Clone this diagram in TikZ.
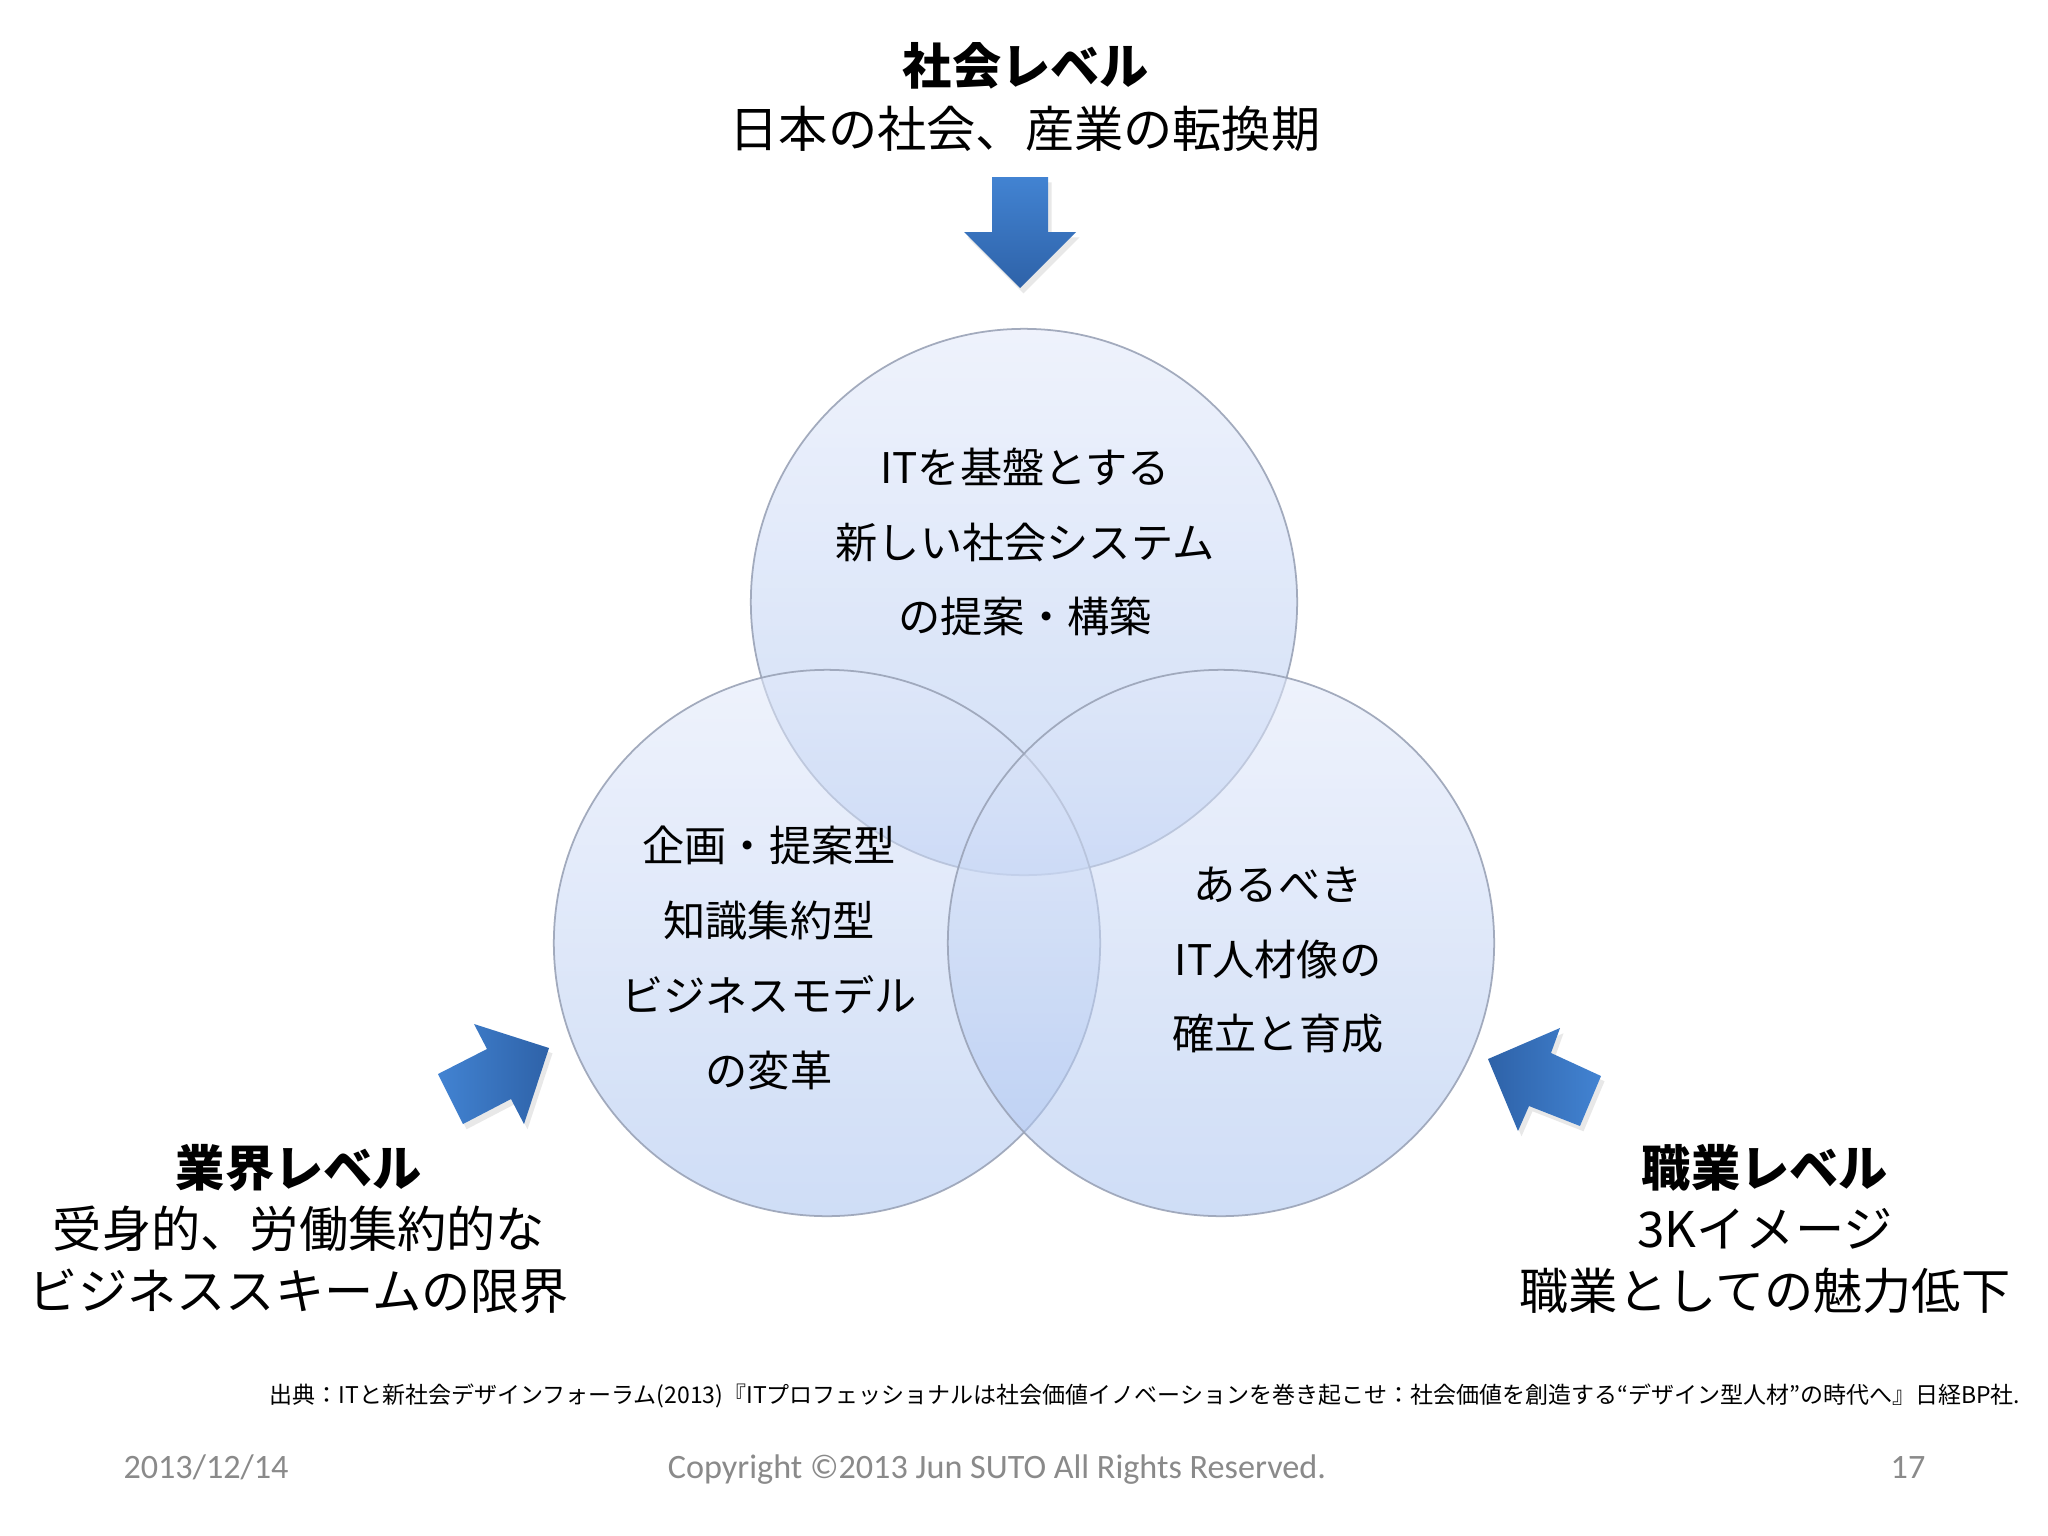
\documentclass[tikz,border=0pt]{standalone}
\usepackage{fontspec}
\setmainfont{Noto Sans CJK JP}
\newfontfamily\footfont{Carlito}
\usetikzlibrary{shadows}
\definecolor{arrowlight}{HTML}{4283D2}
\definecolor{arrowdark}{HTML}{2E62A8}
\definecolor{venntop}{RGB}{226,233,250}
\definecolor{vennbot}{RGB}{168,194,240}
\definecolor{vennedge}{HTML}{9AA3B7}
\definecolor{footgray}{HTML}{8A8A8A}
\tikzset{
  venn/.style={circle, minimum size=5.46cm, inner sep=0pt, draw=vennedge, line width=0.5pt,
    top color=venntop, bottom color=vennbot, fill opacity=0.55, draw opacity=0.9},
  titleb/.style={font=\fontsize{14pt}{16pt}\selectfont\bfseries, inner sep=0pt},
  titler/.style={font=\fontsize{14pt}{16pt}\selectfont, inner sep=0pt},
  ctext/.style={font=\fontsize{12pt}{21.3pt}\selectfont, align=center, inner sep=0pt},
  bluearrow/.style={draw=none, drop shadow={opacity=0.18, shadow xshift=1pt, shadow yshift=-1.5pt}},
  foot/.style={font=\footfont\fontsize{9.72pt}{11pt}\selectfont, text=footgray, inner sep=0pt, anchor=base},
}
\begin{document}
\begin{tikzpicture}[x=0.01cm,y=-0.01cm]
\useasboundingbox[fill=white] (0,0) rectangle (2048,1536);

% circles
\node[venn] (top) at (1024,602) {};
\node[venn] (left) at (827,943) {};
\node[venn] (right) at (1221,943) {};

% circle texts
\node[ctext] (toptext) at (1025,542) {ITを基盤とする\\新しい社会システム\\の提案・構築};
\node[ctext] (lefttext) at (769,958) {企画・提案型\\知識集約型\\ビジネスモデル\\の変革};
\node[ctext] (righttext) at (1278,960) {あるべき\\IT人材像の\\確立と育成};

% top labels
\node[titleb] (soc) at (1026,66) {社会レベル};
\node[titler] (socd) at (1025,129) {日本の社会、産業の転換期};

% bottom-left labels
\node[titleb] (ind) at (299,1168) {業界レベル};
\node[titler] (indd1) at (299,1229) {受身的、労働集約的な};
\node[titler] (indd2) at (299,1291) {ビジネススキームの限界};

% bottom-right labels
\node[titleb] (job) at (1765,1168) {職業レベル};
\node[titler] (jobd1) at (1765,1229) {3Kイメージ};
\node[titler] (jobd2) at (1765,1291) {職業としての魅力低下};

% arrows
\path[bluearrow, top color=arrowlight, bottom color=arrowdark]
  (992,177) -- (1048,177) -- (1048,232) -- (1076,232) -- (1020,288) -- (964,232) -- (992,232) -- cycle;
\path[bluearrow, left color=arrowlight, right color=arrowdark]
  (438,1074) -- (487,1049) -- (474,1024) -- (549,1048) -- (524,1124) -- (511,1099) -- (463,1124) -- cycle;
\path[bluearrow, left color=arrowdark, right color=arrowlight]
  (1488,1059) -- (1560,1028) -- (1551,1053) -- (1601,1076) -- (1580,1126) -- (1529,1106) -- (1518,1131) -- cycle;

% citation
\node[inner sep=0pt, font=\fontsize{6.54pt}{7pt}\selectfont] (cite) at (1145,1396)
  {出典：ITと新社会デザインフォーラム(2013)『ITプロフェッショナルは社会価値イノベーションを巻き起こせ：社会価値を創造する“デザイン型人材"の時代へ』日経BP社.};

% footer
\node[foot] (date) at (206,1478) {2013/12/14};
\node[foot] (copy) at (997,1478) {Copyright ©2013 Jun SUTO All Rights Reserved.};
\node[foot] (page) at (1908,1478) {17};
\end{tikzpicture}
\end{document}
